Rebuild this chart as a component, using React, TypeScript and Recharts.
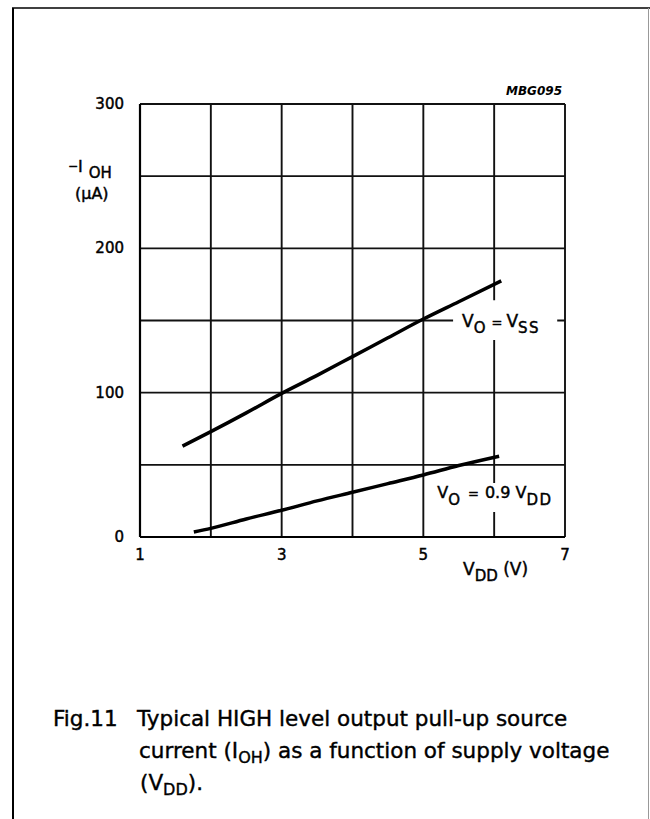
import React from 'react';
import { LineChart, Line, XAxis, YAxis, CartesianGrid, ReferenceArea } from 'recharts';

const FONT = '"DejaVu Sans", Arial, sans-serif';

// axis ticks
const xTicks = [1, 2, 3, 4, 5, 6, 7];
const xTickLabels = ['1', '', '3', '', '5', '', '7'];
const yTicks = [0, 50, 100, 150, 200, 250, 300];
const yTickLabels = ['0', '', '100', '', '200', '', '300'];

// series: VO = VSS
const vssVdd = [1.6, 2, 2.5, 3, 3.5, 4, 4.5, 5, 5.5, 6.1];
const vssIoh = [63, 73, 86, 99.5, 112, 125, 138, 151, 163, 177.5];

// series: VO = 0.9 VDD
const ddVdd = [1.76, 2, 2.5, 3, 3.5, 4, 4.5, 5, 5.5, 6.07];
const ddIoh = [3.5, 6, 12.5, 18.5, 25, 31, 37, 43, 49.5, 56];

// label boxes (data coords): [x1, x2, y1, y2]
const vssLabelBox = [5.42, 6.89, 136.5, 164];
const ddLabelBox = [5.14, 6.93, 17.3, 37.4];

const vssData = vssVdd.map((v, i) => ({ vdd: v, ioh: vssIoh[i] }));
const ddData = ddVdd.map((v, i) => ({ vdd: v, ioh: ddIoh[i] }));

const INK = { fill: '#000', stroke: '#000', strokeWidth: 0.45 };

const XTick = (props: any) => {
  const { x, y, payload } = props;
  const t = xTickLabels[xTicks.indexOf(payload.value)];
  if (!t) return <g />;
  return (
    <text x={x} y={y} textAnchor="middle" dominantBaseline="central" fontSize={15} fontFamily={FONT} {...INK}>
      {t}
    </text>
  );
};

const YTick = (props: any) => {
  const { x, y, payload } = props;
  const t = yTickLabels[yTicks.indexOf(payload.value)];
  if (!t) return <g />;
  return (
    <text x={x} y={y} textAnchor="end" dominantBaseline="central" fontSize={15} fontFamily={FONT} {...INK}>
      {t}
    </text>
  );
};

const XTitle = (props: any) => {
  const { x, y, width } = props.viewBox;
  return (
    <text x={x + width - 102} y={y + 38} fontSize={17} fontFamily={FONT} {...INK}>
      V<tspan fontSize={15} dy={6}>DD</tspan>
      <tspan fontSize={17} dy={-6}> (V)</tspan>
    </text>
  );
};

const YTitle = (props: any) => {
  const { x, y } = props.viewBox;
  return (
    <g fontFamily={FONT} {...INK}>
      <text x={x + 48} y={y + 68} fontSize={16}>
        <tspan fontSize={12} dy={-2}>−</tspan>
        <tspan fontSize={16} dy={2}>I</tspan>
        <tspan fontSize={15} dx={6} dy={6}>OH</tspan>
      </text>
      <text x={x + 55} y={y + 95} fontSize={16}>(µA)</text>
    </g>
  );
};

const VssLabel = (props: any) => {
  const { x, y } = props.viewBox;
  return (
    <text x={x + 9} y={y + 27} fontSize={17} fontFamily={FONT} {...INK}>
      V<tspan fontSize={15} dy={6}>O</tspan>
      <tspan fontSize={13} dy={-6} dx={6}>=</tspan>
      <tspan fontSize={17} dx={4}>V</tspan>
      <tspan fontSize={15} dy={6} letterSpacing={1.5}>SS</tspan>
    </text>
  );
};

const DdLabel = (props: any) => {
  const { x, y } = props.viewBox;
  return (
    <text x={x + 4} y={y + 15} fontSize={16} fontFamily={FONT} {...INK}>
      V<tspan fontSize={15} dy={7}>O</tspan>
      <tspan fontSize={13} dy={-7} dx={8}>=</tspan>
      <tspan fontSize={16} dx={6}>0.9 V</tspan>
      <tspan fontSize={15} dy={7} letterSpacing={1.5}>DD</tspan>
    </text>
  );
};

export default function App() {
  return (
    <div style={{ position: 'absolute', left: 0, top: 0, width: 650, height: 819, overflow: 'hidden', background: '#fff' }}>
      <LineChart
        width={650}
        height={620}
        margin={{ top: 104, right: 85, bottom: 43, left: 20 }}
        style={{ fontFamily: FONT }}
      >
        <CartesianGrid stroke="#111" strokeWidth={1.9} />
        <XAxis
          type="number"
          dataKey="vdd"
          domain={[1, 7]}
          ticks={xTicks}
          interval={0}
          tickSize={0}
          tickMargin={18}
          height={40}
          axisLine={{ stroke: '#000', strokeWidth: 2.2 }}
          tickLine={false}
          tick={<XTick />}
          label={(p: any) => <XTitle {...p} />}
          allowDataOverflow
        />
        <YAxis
          type="number"
          domain={[0, 300]}
          ticks={yTicks}
          interval={0}
          tickSize={0}
          tickMargin={16}
          width={120}
          axisLine={{ stroke: '#000', strokeWidth: 2.2 }}
          tickLine={false}
          tick={<YTick />}
          label={(p: any) => <YTitle {...p} />}
          allowDataOverflow
        />
        <ReferenceArea
          x1={vssLabelBox[0]}
          x2={vssLabelBox[1]}
          y1={vssLabelBox[2]}
          y2={vssLabelBox[3]}
          fill="#fff"
          fillOpacity={1}
          stroke="none"
          ifOverflow="visible"
          label={(p: any) => <VssLabel {...p} />}
        />
        <ReferenceArea
          x1={ddLabelBox[0]}
          x2={ddLabelBox[1]}
          y1={ddLabelBox[2]}
          y2={ddLabelBox[3]}
          fill="#fff"
          fillOpacity={1}
          stroke="none"
          ifOverflow="visible"
          label={(p: any) => <DdLabel {...p} />}
        />
        <Line
          data={vssData}
          dataKey="ioh"
          type="monotone"
          stroke="#000"
          strokeWidth={3.5}
          dot={false}
          isAnimationActive={false}
        />
        <Line
          data={ddData}
          dataKey="ioh"
          type="monotone"
          stroke="#000"
          strokeWidth={3.5}
          dot={false}
          isAnimationActive={false}
        />
      </LineChart>
      <svg
        width={650}
        height={819}
        style={{ position: 'absolute', left: 0, top: 0, pointerEvents: 'none' }}
        fontFamily={FONT}
      >
        <line x1={13} y1={8} x2={13} y2={819} stroke="#000" strokeWidth={2} />
        <line x1={12} y1={8} x2={650} y2={8} stroke="#000" strokeWidth={1.6} />
        <line x1={648.5} y1={8} x2={648.5} y2={819} stroke="#999" strokeWidth={1} />
        <text x={562} y={95} textAnchor="end" fontSize={12} fontWeight="bold" fontStyle="italic" fill="#000">
          MBG095
        </text>
        <g fontSize={21.5} {...INK} strokeWidth={0.4}>
          <text x={53} y={726}>Fig.11</text>
          <text x={137} y={726}>Typical HIGH level output pull-up source</text>
          <text x={139} y={758}>
            current (I<tspan fontSize={16} dy={5}>OH</tspan>
            <tspan dy={-5}>) as a function of supply voltage</tspan>
          </text>
          <text x={140} y={790}>
            (V<tspan fontSize={16} dy={5}>DD</tspan>
            <tspan dy={-5}>).</tspan>
          </text>
        </g>
      </svg>
    </div>
  );
}
